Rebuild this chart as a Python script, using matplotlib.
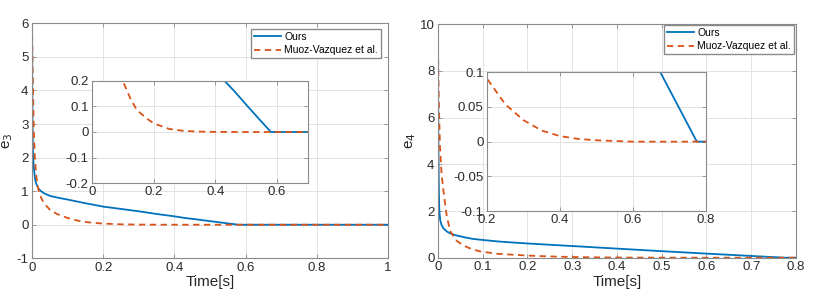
import numpy as np
import matplotlib.pyplot as plt
from matplotlib.ticker import FuncFormatter

# Colours used by MATLAB for the first two lines
blue = '#0072BD'
orange = '#D95319'

# Left panel (e_3): proposed method and comparison
t3_ours = [0, 0.001, 0.002, 0.003, 0.005, 0.0084, 0.012, 0.018, 0.025, 0.035, 0.05,
           0.075, 0.1, 0.15, 0.2, 0.25, 0.3, 0.35, 0.4, 0.43, 0.46, 0.5, 0.54, 0.58, 0.7, 1.0]
e3_ours = [6.0, 3.5, 2.5, 2.05, 1.7, 1.37, 1.22, 1.08, 1.0, 0.93, 0.86,
           0.8, 0.75, 0.64, 0.54, 0.47, 0.4, 0.32, 0.25, 0.2, 0.162, 0.107, 0.053, 0.0, 0.0, 0.0]
t3_muoz = [0, 0.002, 0.005, 0.008, 0.012, 0.016, 0.02, 0.028, 0.035, 0.05, 0.07,
           0.1, 0.125, 0.145, 0.175, 0.2, 0.25, 0.3, 0.35, 0.4, 0.5, 0.7, 1.0]
e3_muoz = [6.0, 4.5, 2.8, 2.0, 1.45, 1.15, 0.95, 0.75, 0.62, 0.45, 0.32,
           0.2, 0.13, 0.087, 0.055, 0.034, 0.012, 0.004, 0.0015, 0.0005, 0.0, 0.0, 0.0]

# Right panel (e_4)
t4_ours = [0, 0.001, 0.002, 0.003, 0.005, 0.008, 0.012, 0.02, 0.03, 0.042, 0.06,
           0.08, 0.1, 0.138, 0.2, 0.3, 0.4, 0.5, 0.6, 0.675, 0.7, 0.775, 0.8]
e4_ours = [8.5, 4.5, 2.8, 2.0, 1.6, 1.4, 1.26, 1.12, 1.02, 0.95, 0.87,
           0.8, 0.76, 0.69, 0.61, 0.5, 0.39, 0.28, 0.175, 0.1, 0.075, 0.0, 0.0]
t4_muoz = [0, 0.002, 0.0045, 0.008, 0.012, 0.019, 0.027, 0.04, 0.057, 0.075, 0.094,
           0.131, 0.2, 0.25, 0.3, 0.35, 0.4, 0.45, 0.5, 0.6, 0.8]
e4_muoz = [9.0, 6.5, 4.7, 3.6, 2.9, 1.85, 1.15, 0.75, 0.52, 0.37, 0.27,
           0.17, 0.091, 0.054, 0.031, 0.016, 0.008, 0.004, 0.002, 0.0, 0.0]

labels = ['Ours', 'Muoz-Vazquez et al.']

plt.rcParams['font.family'] = ['Liberation Sans', 'DejaVu Sans']

fmt = FuncFormatter(lambda v, p: '%g' % round(v, 6))


def style_axes(ax, fs=9.5):
    # MATLAB look: grey box, light grid, inward ticks
    ax.grid(True, color='#e3e3e3', linewidth=0.7)
    ax.set_axisbelow(True)
    for s in ax.spines.values():
        s.set_color('#8a8a8a')
        s.set_linewidth(0.8)
    ax.tick_params(direction='in', length=3, width=0.6, colors='#8a8a8a',
                   labelcolor='#2b2b2b', labelsize=fs, top=True, right=True,
                   labeltop=False, labelright=False, pad=2.5)
    ax.xaxis.set_major_formatter(fmt)
    ax.yaxis.set_major_formatter(fmt)


def draw(ax, t_a, e_a, t_b, e_b):
    ax.plot(t_a, e_a, color=blue, linewidth=1.3, label=labels[0])
    ax.plot(t_b, e_b, color=orange, linewidth=1.3, linestyle=(0, (3.5, 2.5)), label=labels[1])


fig = plt.figure(figsize=(8.19, 2.98), dpi=100)

# Left main axes
ax1 = fig.add_axes([0.0391, 0.1332, 0.4347, 0.7886])
draw(ax1, t3_ours, e3_ours, t3_muoz, e3_muoz)
ax1.set_xlim(0, 1)
ax1.set_ylim(-1, 6)
ax1.set_xticks(np.arange(0, 1.01, 0.2))
ax1.set_yticks(np.arange(-1, 7, 1))
style_axes(ax1)
ax1.set_xlabel('Time[s]', fontsize=11, color='#262626', labelpad=1)
ax1.set_ylabel('e$_3$', fontsize=11, color='#262626', labelpad=1)
ax1.legend(loc='upper right', bbox_to_anchor=(381/819, (298-29)/298),
           bbox_transform=fig.transFigure, borderaxespad=0, fontsize=7.5,
           fancybox=False, edgecolor='#8a8a8a', framealpha=1, handlelength=2.6,
           handletextpad=0.3, borderpad=0.3, labelspacing=0.3)

# Left inset
in1 = fig.add_axes([0.1123, 0.3859, 0.2637, 0.3423])
draw(in1, t3_ours, e3_ours, t3_muoz, e3_muoz)
in1.set_xlim(0, 0.7)
in1.set_ylim(-0.2, 0.2)
in1.set_xticks([0, 0.2, 0.4, 0.6])
in1.set_yticks([-0.2, -0.1, 0, 0.1, 0.2])
style_axes(in1)

# Right main axes
ax2 = fig.add_axes([0.5348, 0.1352, 0.4371, 0.7832])
draw(ax2, t4_ours, e4_ours, t4_muoz, e4_muoz)
ax2.set_xlim(0, 0.8)
ax2.set_ylim(0, 10)
ax2.set_xticks(np.arange(0, 0.81, 0.1))
ax2.set_yticks(np.arange(0, 11, 2))
style_axes(ax2)
ax2.set_xlabel('Time[s]', fontsize=11, color='#262626', labelpad=1)
ax2.set_ylabel('e$_4$', fontsize=11, color='#262626', labelpad=1)
ax2.legend(loc='upper right', bbox_to_anchor=(794/819, (298-25)/298),
           bbox_transform=fig.transFigure, borderaxespad=0, fontsize=7.5,
           fancybox=False, edgecolor='#8a8a8a', framealpha=1, handlelength=2.6,
           handletextpad=0.3, borderpad=0.3, labelspacing=0.3)

# Right inset
in2 = fig.add_axes([0.5946, 0.2919, 0.2674, 0.4654])
draw(in2, t4_ours, e4_ours, t4_muoz, e4_muoz)
in2.set_xlim(0.2, 0.8)
in2.set_ylim(-0.1, 0.1)
in2.set_xticks([0.2, 0.4, 0.6, 0.8])
in2.set_yticks([-0.1, -0.05, 0, 0.05, 0.1])
style_axes(in2)

plt.savefig('out.png', dpi=100)
